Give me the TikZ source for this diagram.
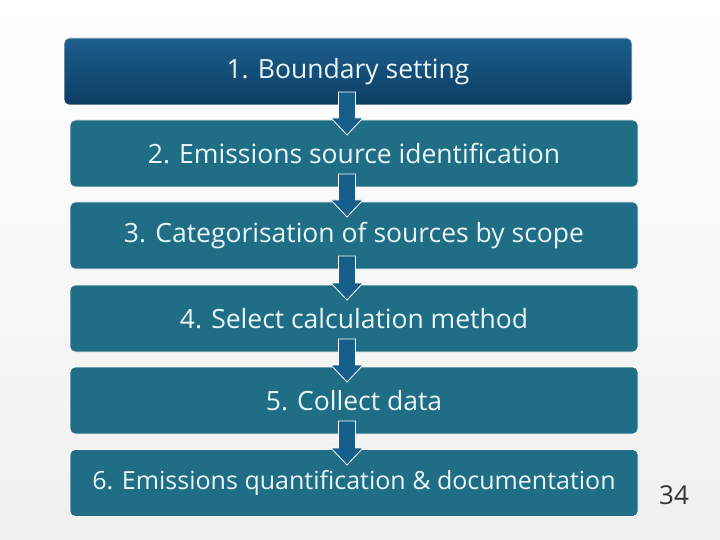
\documentclass[tikz,border=0pt]{standalone}
\usepackage{fontspec}
\setmainfont{Open Sans}
\begin{document}
\begin{tikzpicture}[x=1pt,y=-1pt,
  stepbox/.style={draw=white,line width=0.8pt,rounded corners=5pt,fill=boxc,minimum width=568pt,minimum height=67pt,text=txt,font=\fontsize{26.5}{30}\selectfont,inner sep=0pt},
  barrow/.style={fill=arrc,draw=white,line width=0.8pt}]
\definecolor{boxc}{HTML}{1F6E85}
\definecolor{arrc}{HTML}{155F8A}
\definecolor{txt}{HTML}{EAF6FA}
\definecolor{topa}{HTML}{1D5F8C}
\definecolor{topb}{HTML}{0C3D63}
\useasboundingbox (0,0) rectangle (720,540);
\fill[top color=white,bottom color=gray!12] (0,0) rectangle (720,540);
\node[stepbox,top color=topa,bottom color=topb] (s1) at (348,71.5) {1. Boundary setting};
\node[stepbox] (s2) at (354,153.5) {2. Emissions source identification};
\node[stepbox] (s3) at (354,235.5) {3. Categorisation of sources by scope};
\node[stepbox] (s4) at (354,318.5) {4. Select calculation method};
\node[stepbox] (s5) at (354,400.5) {5. Collect data};
\node[stepbox,font=\fontsize{25}{30}\selectfont] (s6) at (354,483) {6. Emissions quantification \& documentation};
\foreach \yb/\yt in {105/120,187/202,269/285,352/367,434/450}{
  \draw[barrow] (338.5,\yb-13) -- (355.5,\yb-13) -- (355.5,\yt-2) -- (363,\yt-2) -- (347,\yt+15) -- (331,\yt-2) -- (338.5,\yt-2) -- cycle;
}
\node[font=\fontsize{26}{30}\selectfont,text=black!80] (p) at (674,495) {34};
\end{tikzpicture}
\end{document}
